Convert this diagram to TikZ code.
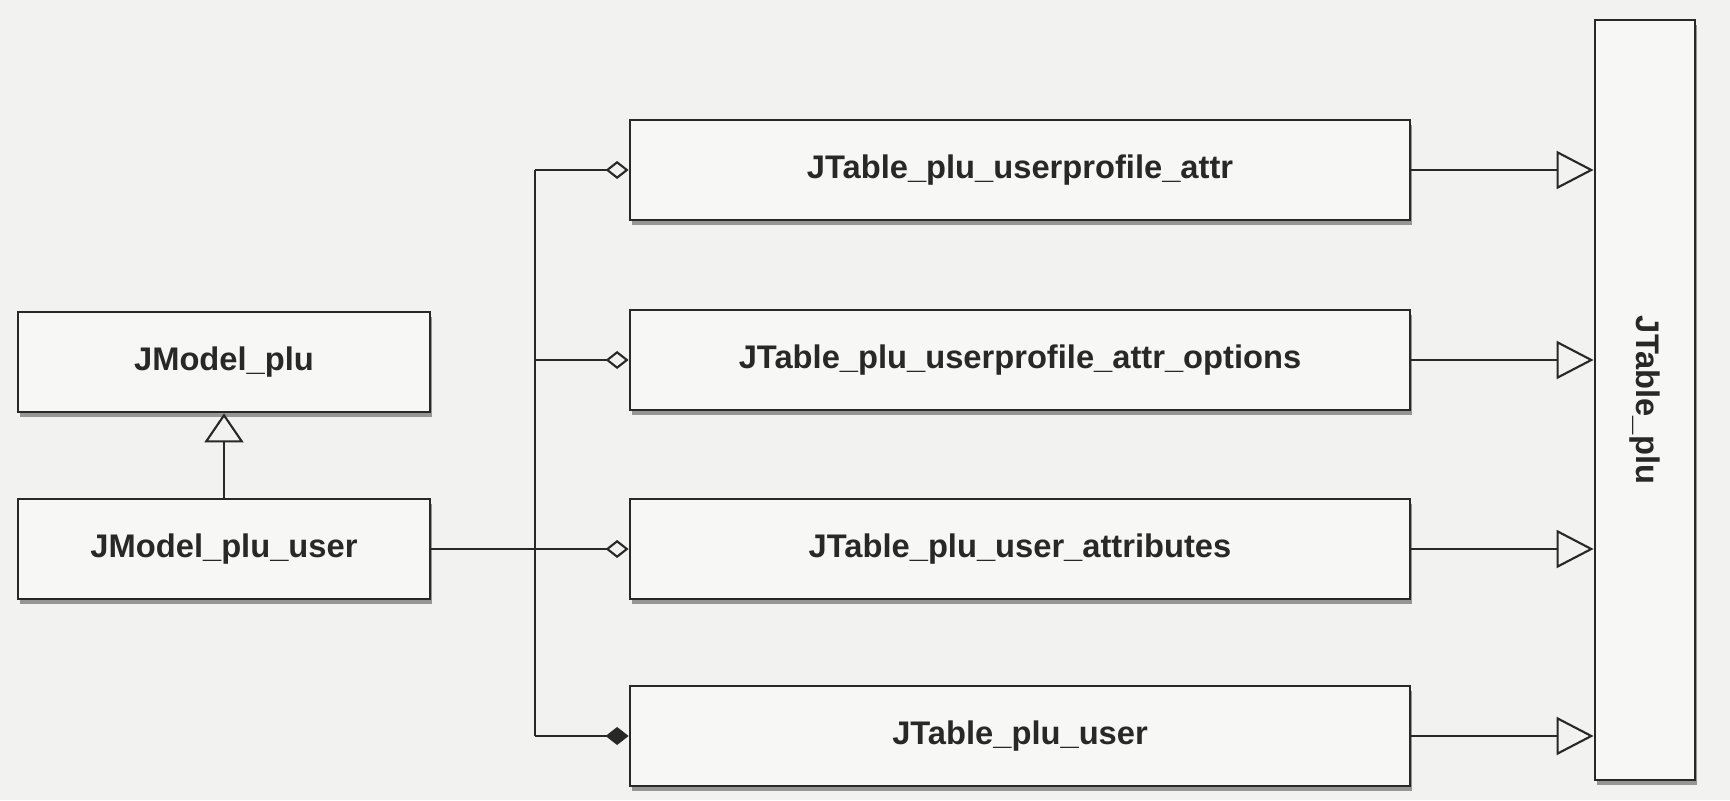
\documentclass[tikz,border=0pt]{standalone}
\usepackage{fontspec}
\setmainfont{Liberation Sans}
\usepackage{graphicx}
\usepackage{xcolor}
\usetikzlibrary{arrows.meta,shadows}

\definecolor{paper}{RGB}{242,242,240}
\definecolor{ink}{RGB}{40,40,40}

\begin{document}
\begin{tikzpicture}
            [thick,
            cls/.style = {draw=ink,
                        fill=paper!60!white,
                        font=\bfseries\fontsize{9.3}{11}\selectfont,
                        text=ink,
                        minimum height = 1cm,
                        drop shadow={shadow xshift=0.6pt,shadow yshift=-1.4pt,
                                     opacity=0.55,fill=black!70}},
            model/.style = {cls, minimum width = 4.12cm},
            tbl/.style = {cls, minimum width = 7.8cm},
            link/.style = {draw=ink, semithick},
            agg/.style = {link, -{Diamond[open,length=2.3mm,width=1.8mm]}},
            comp/.style = {link, -{Diamond[length=2.3mm,width=1.8mm]}},
            gen/.style = {link, -{Triangle[open,length=3.7mm,width=3.8mm]}},
            gensmall/.style = {link, -{Triangle[open,length=2.9mm,width=3.9mm]}}]
            \fill[paper] (0,0) rectangle (17.3,8);
            \useasboundingbox (0,0) rectangle (17.3,8);
            % Modelos
            \node[model] (mp) at (2.24,4.38) {JModel\_plu};
            \node[model] (mu) at (2.24,2.51) {JModel\_plu\_user};
            % Tablas
            \node[tbl] (t1) at (10.2,6.30) {JTable\_plu\_userprofile\_attr};
            \node[tbl] (t2) at (10.2,4.40) {JTable\_plu\_userprofile\_attr\_options};
            \node[tbl] (t3) at (10.2,2.51) {JTable\_plu\_user\_attributes};
            \node[tbl] (t4) at (10.2,0.64) {JTable\_plu\_user};
            \node[cls,minimum width=1cm,minimum height=7.6cm] (tp) at (16.45,4.0)
                {\rotatebox{-90}{JTable\_plu}};
            \coordinate (bus) at (5.35,0);

            \draw[gensmall] (mu.north) -- (mp.south);
            \draw[agg] (mu.east) -- (t3.west);
            \draw[link] (bus |- t1.west) -- (bus |- t4.west);
            \draw[agg] (bus |- t1.west) -- (t1.west);
            \draw[agg] (bus |- t2.west) -- (t2.west);
            \draw[comp] (bus |- t4.west) -- (t4.west);

            \foreach \t in {t1,t2,t3,t4}
                \draw[gen] (\t.east) -- (\t.east -| tp.west);
        \end{tikzpicture}
\end{document}
